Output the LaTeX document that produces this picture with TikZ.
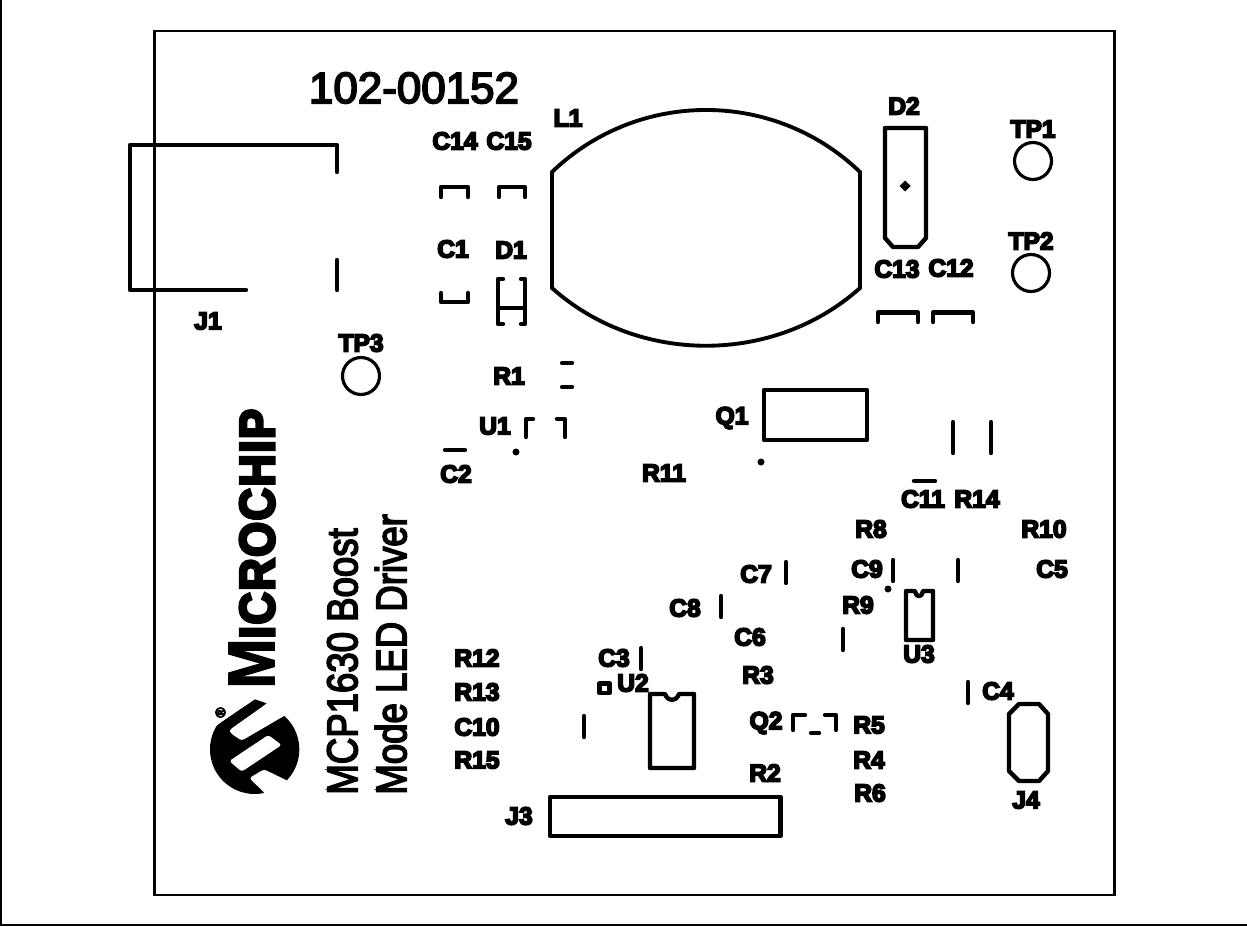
\documentclass[tikz,border=0pt]{standalone}
\usepackage{fontspec}
\setmainfont{Liberation Sans}
\newfontfamily\partfont[FakeBold=7]{Liberation Sans Bold}
\newfontfamily\boldtextfont[FakeBold=4]{Liberation Sans}
\newfontfamily\logofont[FakeBold=6,LetterSpace=3]{Liberation Sans Bold}
\newfontfamily\logobigfont[FakeBold=2,LetterSpace=3]{Liberation Sans Bold}
\tikzset{
  silk/.style={line width=2.5pt,line cap=round,line join=round},
  thinsilk/.style={line width=1.8pt,line cap=round,line join=round},
  partlabel/.style={font=\partfont\fontsize{14}{14}\selectfont},
  boardtext/.style={font=\boldtextfont\fontsize{24.5}{26}\selectfont}
}
\begin{document}
\begin{tikzpicture}[x=0.02cm,y=0.02cm]
    \tikzstyle{every node}+=[inner sep=0pt]
    \useasboundingbox (0,0) rectangle (1247,-926);
    % page and board edge
    \draw [line width=1.2pt] (1,0) -- (1,-925) -- (1247,-925);
    \draw [line width=1.4pt,line join=miter] (154.5,-31) rectangle (1114.5,-895);
    % J1
    \draw [silk] (337,-172) -- (337,-145) -- (130,-145) -- (130,-290) -- (246,-290);
    \draw [silk] (337,-260) -- (337,-290);
    % L1
    \draw [silk,line width=2.2pt,line cap=butt,line join=miter] (552,-172) .. controls (638,-89.3) and (774,-89.3) .. (860,-172)
        -- (860,-288) .. controls (774,-365) and (638,-365) .. (552,-288) -- cycle;
    % D2
    \draw [silk] (885,-128) -- (926,-128) -- (926,-238) -- (918,-247) -- (893,-247) -- (885,-238) -- cycle;
    \fill (905,-180.5) -- (910.5,-186) -- (905,-191.5) -- (899.5,-186) -- cycle;
    % test points
    \draw [thinsilk] (1033,-161) circle (18.5);
    \draw [thinsilk] (1031,-273) circle (18.5);
    \draw [thinsilk] (361,-376) circle (18.5);
    % C12 C13 C14 C15 C1
    \draw [silk] (878,-322) -- (878,-312.5) -- (918,-312.5) -- (918,-322);
    \draw [silk] (933,-322) -- (933,-312.5) -- (973,-312.5) -- (973,-322);
    \draw [silk] (441,-197) -- (441,-187) -- (468,-187) -- (468,-197);
    \draw [silk] (499,-197) -- (499,-187) -- (525,-187) -- (525,-197);
    \draw [silk] (441,-293) -- (441,-302) -- (468,-302) -- (468,-293);
    % D1
    \draw [silk] (503,-279) -- (498,-279) -- (498,-324) -- (503,-324);
    \draw [silk] (521,-279) -- (525,-279) -- (525,-324) -- (521,-324);
    \draw [thinsilk] (498,-308) -- (525,-308);
    % R1 U1 C2
    \draw [silk] (562,-363) -- (572,-363);
    \draw [silk] (562,-387) -- (572,-387);
    \draw [silk] (526,-437) -- (526,-419) -- (533,-419);
    \draw [silk] (557,-419) -- (565,-419) -- (565,-437);
    \fill (516,-452) circle (3.5);
    \draw [silk] (445,-450) -- (465,-450);
    % Q1
    \draw [silk] (764,-390) rectangle (867,-440);
    \fill (761,-462) circle (3.5);
    % R14 R10 C11
    \draw [silk] (953,-422) -- (953,-453);
    \draw [silk] (991,-422) -- (991,-453);
    \draw [silk] (914,-481) -- (935,-481);
    % upright pads
    \draw [silk] (786,-562) -- (786,-583);
    \draw [silk] (721,-596) -- (721,-617);
    \draw [silk] (641,-648) -- (641,-669);
    \draw [silk] (584,-716) -- (584,-737);
    \draw [silk] (843,-629) -- (843,-650);
    \draw [silk] (893,-560) -- (893,-581);
    \draw [silk] (958,-560) -- (958,-581);
    \draw [silk] (968,-682) -- (968,-703);
    \fill (888,-589) circle (3.5);
    % U2
    \draw [silk] (599.5,-683.5) rectangle (609.5,-693);
    \draw [silk] (650,-694) -- (665,-694) .. controls (668,-702) and (676,-702) .. (679,-694)
        -- (694,-694) -- (694,-768) -- (650,-768) -- cycle;
    % U3
    \draw [silk] (906,-591) -- (915,-591) .. controls (916.5,-598) and (921.5,-598) .. (923,-591)
        -- (933,-591) -- (933,-640) -- (906,-640) -- cycle;
    % Q2
    \draw [silk] (793,-730) -- (793,-715) -- (805,-715);
    \draw [silk] (825,-715) -- (836,-715) -- (836,-730);
    \draw [silk] (811,-733) -- (819,-733);
    % J3 J4
    \draw [silk] (550,-797) rectangle (780.5,-836);
    \draw [silk] (1019,-704) -- (1039,-704) -- (1048,-714) -- (1048,-771) -- (1039,-781) -- (1019,-781)
        -- (1009,-771) -- (1009,-714) -- cycle;
    % logo
    \begin{scope}[shift={(200,-690)},scale=0.3333]
        \fill (164,-178) circle (134);
        \fill [white] (40,-113) -- (165,-28) -- (200,-10) -- (30,0) -- (10,-60) -- cycle;
        \fill [white,rounded corners=1.5pt] (200,-40) -- (90,-118) -- (90,-128) -- (125,-152) -- (262,-72) -- (300,-40) -- (240,-10) -- cycle;
        \fill (60,-100) -- (165,-28) -- (200,-40) -- (90,-118) -- cycle;
        \fill [white,rounded corners=1.5pt] (205,-135) -- (88,-213) -- (125,-245) -- (245,-165) -- cycle;
        \fill [white,rounded corners=1.5pt] (148,-264) -- (192,-238) -- (262,-272) -- (320,-330) -- (200,-330) -- (195,-310) -- cycle;
    \end{scope}
    \node (reg) [rotate=90,font=\logofont\fontsize{8}{8}\selectfont] at (220.5,-712.5) {®};
    \node (microchip) [rotate=90,anchor=south west] at (275,-689) {\scalebox{0.915}[1]{\logobigfont\fontsize{37.5}{38}\selectfont M\logofont\fontsize{28}{28}\selectfont ICROCHIP}};
    % board texts
    \node (partno) [boardtext,font=\boldtextfont\fontsize{25}{26}\selectfont] at (414,-88) {102-00152};
    \node (title1) [boardtext,rotate=90,anchor=south west] at (358,-795) {\scalebox{0.85}[1]{MCP1630 Boost}};
    \node (title2) [boardtext,rotate=90,anchor=south west] at (407,-795) {\scalebox{0.85}[1]{Mode LED Driver}};
    % part labels
    \node (L1) [partlabel] at (568,-118) {L1};
    \node (C14) [partlabel] at (455,-141) {C14};
    \node (C15) [partlabel] at (509,-141) {C15};
    \node (C1) [partlabel] at (453,-249) {C1};
    \node (D1) [partlabel] at (511,-250) {D1};
    \node (D2) [partlabel] at (904,-106) {D2};
    \node (TP1) [partlabel] at (1033,-129) {TP1};
    \node (TP2) [partlabel] at (1031,-241) {TP2};
    \node (C13) [partlabel] at (897,-269) {C13};
    \node (C12) [partlabel] at (951,-268) {C12};
    \node (J1) [partlabel] at (208,-321) {J1};
    \node (TP3) [partlabel] at (361,-343) {TP3};
    \node (R1) [partlabel] at (509,-376) {R1};
    \node (U1) [partlabel] at (495,-426) {U1};
    \node (C2) [partlabel] at (456,-474) {C2};
    \node (Q1) [partlabel] at (732,-418) {Q1};
    \node (R11) [partlabel] at (664,-473) {R11};
    \node (C11) [partlabel] at (923,-499) {C11};
    \node (R14) [partlabel] at (977,-499) {R14};
    \node (R8) [partlabel] at (871,-529) {R8};
    \node (R10) [partlabel] at (1044,-529) {R10};
    \node (C9) [partlabel] at (867,-569) {C9};
    \node (C5) [partlabel] at (1052,-569) {C5};
    \node (C7) [partlabel] at (756,-574) {C7};
    \node (C8) [partlabel] at (685,-608) {C8};
    \node (R9) [partlabel] at (858,-605) {R9};
    \node (C6) [partlabel] at (750,-637) {C6};
    \node (U3) [partlabel] at (919,-654) {U3};
    \node (R12) [partlabel] at (477,-658) {R12};
    \node (C3) [partlabel] at (614,-658) {C3};
    \node (R13) [partlabel] at (477,-692) {R13};
    \node (U2) [partlabel] at (633,-683) {U2};
    \node (R3) [partlabel] at (758,-675) {R3};
    \node (C4) [partlabel] at (998,-691) {C4};
    \node (Q2) [partlabel] at (766,-723) {Q2};
    \node (R5) [partlabel] at (869,-725) {R5};
    \node (C10) [partlabel] at (477,-727) {C10};
    \node (R15) [partlabel] at (477,-760) {R15};
    \node (R4) [partlabel] at (869,-760) {R4};
    \node (R2) [partlabel] at (765,-773) {R2};
    \node (R6) [partlabel] at (870,-793) {R6};
    \node (J4) [partlabel] at (1026,-800) {J4};
    \node (J3) [partlabel] at (519,-816) {J3};
\end{tikzpicture}
\end{document}
